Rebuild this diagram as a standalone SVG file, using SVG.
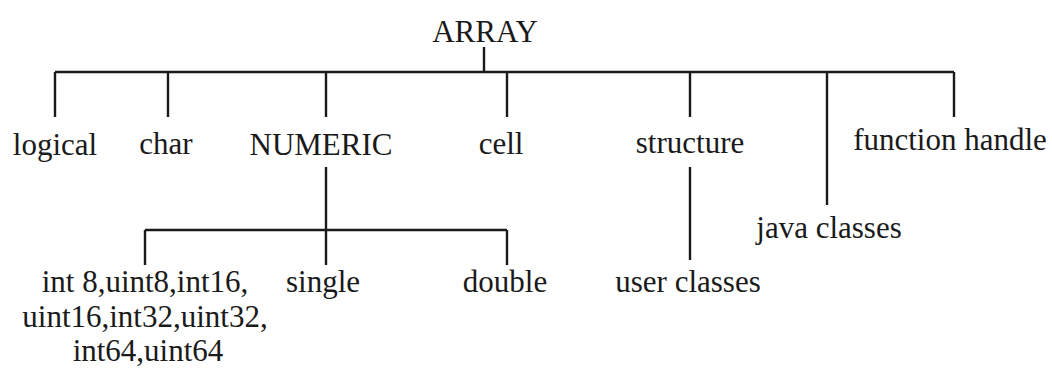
<svg xmlns="http://www.w3.org/2000/svg" width="1052" height="373" viewBox="0 0 1052 373">
<style>
text{font-family:"Liberation Serif","Times New Roman",serif;font-size:31px;fill:#1a1a1a;text-anchor:middle}
.c{stroke:#1a1a1a;stroke-width:2.4;fill:none}
</style>
<rect width="1052" height="373" fill="#fff"/>
<g id="connectors" class="c">
<path d="M484,47V72M55,72H954M55,72V117M168,72V117M326,72V117M507,72V117M690,72V117M827,72V205M954,72V117"/>
<path d="M326,167V230M145,230H507M145,230V265M326,230V265M507,230V265"/>
<path d="M690,167V260"/>
</g>
<g id="array"><text x="485" y="42">ARRAY</text></g>
<g id="logical"><text x="55" y="155">logical</text></g>
<g id="char"><text x="166" y="154">char</text></g>
<g id="numeric"><text x="321" y="155">NUMERIC</text></g>
<g id="cell"><text x="501" y="154">cell</text></g>
<g id="structure"><text x="690" y="153">structure</text></g>
<g id="function-handle"><text x="950" y="150">function handle</text></g>
<g id="java-classes"><text x="829" y="238">java classes</text></g>
<g id="user-classes"><text x="688" y="292">user classes</text></g>
<g id="ints"><text x="145" y="292">int 8,uint8,int16,</text><text x="145" y="327">uint16,int32,uint32,</text><text x="148" y="361">int64,uint64</text></g>
<g id="single"><text x="323" y="292">single</text></g>
<g id="double"><text x="505" y="292">double</text></g>
</svg>
